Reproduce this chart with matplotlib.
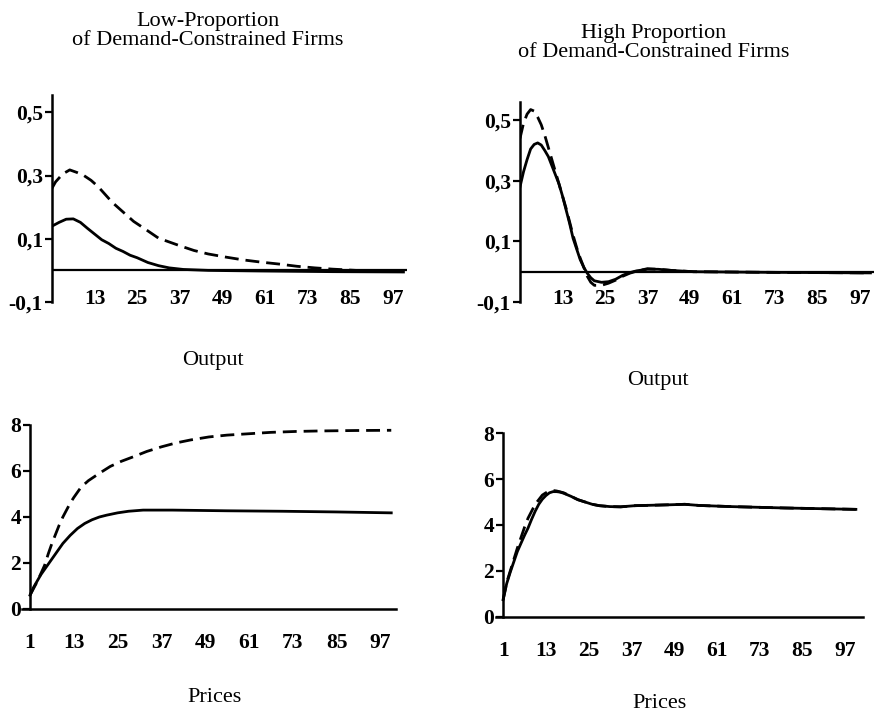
import matplotlib
matplotlib.use("Agg")
from matplotlib import pyplot as plt

plt.rcParams['font.family'] = ['Liberation Serif', 'DejaVu Serif']

# ---- data ----
# output, low proportion
p_out_low = [1, 3, 5, 7, 9, 11, 13, 15, 17, 19, 21, 23, 25, 28, 31, 34, 38, 45, 60, 80, 100]
out_low_solid = [0.14, 0.152, 0.162, 0.163, 0.152, 0.133, 0.115, 0.097, 0.085, 0.07, 0.06,
                 0.048, 0.04, 0.025, 0.015, 0.008, 0.003, 0.0, -0.002, -0.004, -0.005]
p_out_low_d = [1, 2, 4, 6, 8, 10, 12, 14, 16, 18, 20, 22, 24, 26, 28, 31, 34, 37, 41, 45,
               50, 55, 60, 65, 70, 75, 80, 85, 90, 100]
out_low_dash = [0.26, 0.28, 0.305, 0.318, 0.31, 0.3, 0.285, 0.265, 0.24, 0.215, 0.195, 0.175,
                0.155, 0.14, 0.125, 0.102, 0.09, 0.078, 0.063, 0.052, 0.042, 0.033, 0.026,
                0.02, 0.013, 0.008, 0.004, 0.001, -0.002, -0.004]

# output, high proportion
p_out_high = [1, 2, 3, 4, 5, 6, 7, 8, 9, 10, 11, 12, 13, 14, 15, 16, 17, 18, 19, 20, 21, 22,
              24, 26, 28, 30, 32, 34, 37, 40, 44, 50, 70, 100]
out_high_solid = [0.28, 0.33, 0.37, 0.405, 0.42, 0.425, 0.418, 0.40, 0.38, 0.35, 0.32, 0.29,
                  0.25, 0.205, 0.16, 0.11, 0.075, 0.04, 0.015, -0.005, -0.02, -0.03, -0.035,
                  -0.033, -0.025, -0.012, -0.003, 0.003, 0.008, 0.008, 0.004, 0.0, -0.002, -0.004]
out_high_dash = [0.44, 0.49, 0.52, 0.535, 0.53, 0.51, 0.485, 0.45, 0.41, 0.37, 0.33, 0.29,
                 0.25, 0.21, 0.165, 0.12, 0.08, 0.045, 0.015, -0.015, -0.035, -0.045, -0.045,
                 -0.038, -0.028, -0.015, -0.005, 0.002, 0.01, 0.008, 0.004, 0.0, -0.002, -0.004]

# prices, low proportion
p_pr_low = [1, 2, 4, 6, 8, 10, 12, 14, 16, 18, 20, 22, 25, 28, 32, 40, 55, 70, 85, 100]
pr_low_solid = [0.6, 0.95, 1.5, 1.95, 2.4, 2.85, 3.2, 3.5, 3.72, 3.88, 4.0, 4.08, 4.18, 4.25,
                4.3, 4.3, 4.27, 4.25, 4.22, 4.18]
p_pr_low_d = [1, 2, 3, 4, 5, 6, 7, 8, 9, 10, 11, 12, 13, 15, 17, 20, 23, 26, 29, 33, 37, 41,
              45, 50, 55, 61, 67, 74, 80, 90, 100]
pr_low_dash = [0.6, 0.9, 1.2, 1.55, 1.9, 2.4, 2.85, 3.25, 3.65, 4.0, 4.3, 4.6, 4.85, 5.3, 5.58,
               5.9, 6.2, 6.42, 6.6, 6.85, 7.05, 7.22, 7.35, 7.48, 7.56, 7.62, 7.68, 7.72, 7.74,
               7.76, 7.77]

# prices, high proportion
p_pr_high = [1, 2, 3, 4, 5, 6, 7, 8, 9, 10, 11, 12, 13, 14, 15, 16, 17, 18, 20, 22, 24, 26,
             28, 31, 34, 38, 43, 48, 52, 56, 65, 80, 100]
pr_high_solid = [0.75, 1.45, 1.95, 2.4, 2.85, 3.2, 3.55, 3.87, 4.25, 4.6, 4.9, 5.12, 5.28,
                 5.4, 5.45, 5.45, 5.43, 5.38, 5.25, 5.1, 5.0, 4.9, 4.84, 4.8, 4.79, 4.84, 4.86,
                 4.88, 4.9, 4.85, 4.8, 4.74, 4.68]
pr_high_dash = [0.75, 1.5, 2.0, 2.5, 3.0, 3.45, 3.9, 4.3, 4.6, 4.9, 5.1, 5.3, 5.4, 5.48, 5.5,
                5.48, 5.44, 5.4, 5.25, 5.1, 5.0, 4.9, 4.84, 4.8, 4.79, 4.84, 4.86, 4.88, 4.9,
                4.85, 4.8, 4.74, 4.68]

xt = [1, 13, 25, 37, 49, 61, 73, 85, 97]
out_yt = [-0.1, 0.1, 0.3, 0.5]
out_ylab = ['-0,1', '0,1', '0,3', '0,5']
pr_yt = [0, 2, 4, 6, 8]

W, H = 878, 715
fig = plt.figure(figsize=(W / 100, H / 100), dpi=100)


def box(l, r, t, b):
    return [l / W, 1 - b / H, (r - l) / W, (b - t) / H]


LW = 2.0
DASH = (0, (5, 2.5))
TICKSIZE = 15.5


def style(ax):
    for s in ['top', 'right']:
        ax.spines[s].set_visible(False)
    ax.spines['left'].set_linewidth(1.8)
    ax.spines['bottom'].set_linewidth(1.8)
    ax.tick_params(axis='y', direction='out', length=5, width=1.6, pad=1.5)
    for lab in ax.get_yticklabels() + ax.get_xticklabels():
        lab.set_fontsize(TICKSIZE)
        lab.set_fontweight('bold')


def output_panel(rect, px, solid, pxd, dash, top):
    ax = fig.add_axes(rect)
    ax.plot(pxd, dash, color='black', lw=LW, linestyle=DASH)
    ax.plot(px, solid, color='black', lw=LW)
    ax.axhline(0, color='black', lw=1.6)
    ax.set_xlim(1, 101)
    ax.set_ylim(-0.1, top)
    ax.set_yticks(out_yt)
    ax.set_yticklabels(out_ylab)
    ax.set_xticks(xt[1:])
    ax.set_xticklabels([str(v) for v in xt[1:]])
    ax.spines['bottom'].set_visible(False)
    ax.tick_params(axis='x', length=0, pad=-9)
    style(ax)
    return ax


def price_panel(rect, px, solid, pxd, dash, xlo, xhi, pad):
    ax = fig.add_axes(rect)
    ax.plot(pxd, dash, color='black', lw=LW, linestyle=DASH)
    ax.plot(px, solid, color='black', lw=LW)
    ax.set_xlim(xlo, xhi)
    ax.set_ylim(0, 8)
    ax.spines['left'].set_position(('data', 1))
    ax.set_yticks(pr_yt)
    ax.set_xticks(xt)
    ax.set_xticklabels([str(v) for v in xt])
    ax.tick_params(axis='x', length=0, pad=pad)
    style(ax)
    return ax


output_panel(box(52, 407, 95, 302), p_out_low, out_low_solid, p_out_low_d, out_low_dash, 0.555)
output_panel(box(520, 874, 102, 302), p_out_high, out_high_solid, p_out_high, out_high_dash, 0.56)
price_panel(box(22, 396, 425, 609), p_pr_low, pr_low_solid, p_pr_low_d, pr_low_dash,
            -1.2, 101.3, 17)
price_panel(box(496, 863, 433, 617), p_pr_high, pr_high_solid, p_pr_high, pr_high_dash,
            -1.0, 102, 17)

tf = dict(fontsize=16, ha='center', va='center', linespacing=1.05)
fig.text(208 / W, 1 - 31 / H, 'Low-Proportion\nof Demand-Constrained Firms', **tf)
fig.text(654 / W, 1 - 43 / H, 'High Proportion\nof Demand-Constrained Firms', **tf)
lf = dict(fontsize=16, ha='center', va='center')
fig.text(213 / W, 1 - 360 / H, 'Output', **lf)
fig.text(658 / W, 1 - 380 / H, 'Output', **lf)
fig.text(215 / W, 1 - 698 / H, 'Prices', **lf)
fig.text(660 / W, 1 - 703 / H, 'Prices', **lf)

fig.savefig('out.png', dpi=100)
